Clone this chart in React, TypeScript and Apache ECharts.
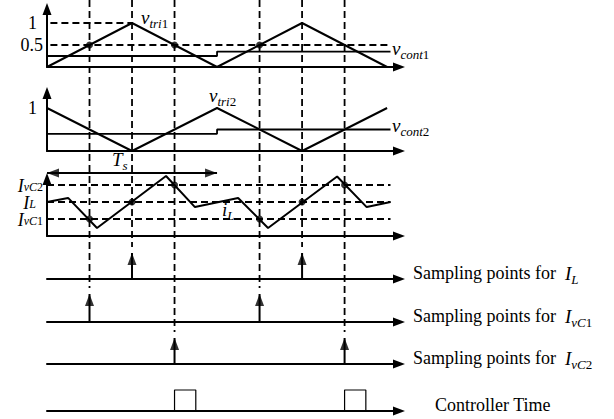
import React, { useEffect, useRef } from 'react';
import * as echarts from 'echarts';

// ---- data (time in units of Ts) ----
const XMAX = 2.07;
const tri1 = [[0, 0], [0.5, 1], [1, 0], [1.5, 1], [2, 0]];
const vcont1 = [[0, 0.25], [1, 0.25], [1, 0.35], [2.02, 0.35]];
const tri1Dots = [[0.25, 0.5], [0.75, 0.5], [1.25, 0.5]];
const tri1Refs = [
  [[0.02, 1], [0.5, 1]],
  [[0.02, 0.5], [2.02, 0.5]],
];
const tri2 = [[0, 1], [0.5, 0], [1, 1], [1.5, 0], [2, 1]];
const vcont2 = [[0, 0.4], [1, 0.4], [1, 0.5], [2.02, 0.5]];
const iL = [
  [0, 2.0], [0.124, 2.24], [0.294, 0.47], [0.7, 3.53], [0.87, 1.7],
  [1.124, 2.24], [1.3, 0.47], [1.706, 3.5], [1.88, 1.7], [2.02, 2.0],
];
const iLDots = [[0.25, 1], [0.5, 2], [0.75, 3], [1.25, 1], [1.5, 2], [1.75, 3]];
const iLevels = [1, 2, 3]; // IvC1, IL, IvC2
const iLevelEnd = 2.02;
const sampleIL = [0.5, 1.5];
const sampleIvC1 = [0.25, 1.25];
const sampleIvC2 = [0.75, 1.75];
const controllerPulses = [[0.75, 0.875], [1.75, 1.875]];
const dashedTimes = [0.25, 0.5, 0.75, 1.25, 1.5, 1.75];
const dashedEnds = [288, 247, 332, 288, 247, 332];
const tsSpan = [0, 1];
const tsRow = 173;
const rightLabels = ['Sampling points for  ', 'Sampling points for  ', 'Sampling points for  ', 'Controller Time'];
const rightSubs = ['L', 'vC1', 'vC2', ''];

const SERIF = 'Liberation Serif';
const BLACK = '#000';

function buildOption() {
  const grids = [
    { left: 47, top: 9, width: 352, height: 58 },
    { left: 47, top: 93, width: 352, height: 58 },
    { left: 47, top: 179, width: 352, height: 57 },
    { left: 47, top: 253, width: 352, height: 26 },
    { left: 47, top: 294, width: 352, height: 28 },
    { left: 47, top: 338, width: 352, height: 26 },
    { left: 47, top: 390, width: 352, height: 21 },
    { left: 47, top: 0, width: 352, height: 419 },
  ];
  const axisLine = {
    show: true,
    symbol: ['none', 'triangle'],
    symbolSize: [9, 12],
    lineStyle: { color: BLACK, width: 2 },
  };
  const xAxis = grids.map((_, i) => ({
    gridIndex: i,
    type: 'value',
    min: 0,
    max: XMAX,
    show: i < 7,
    axisLine,
    axisTick: { show: false },
    axisLabel: { show: false },
    splitLine: { show: false },
  }));
  const numRich = {
    a: { fontFamily: SERIF, fontSize: 18, color: BLACK },
    b: { fontFamily: SERIF, fontSize: 18, color: BLACK, padding: [0, 6, 0, 0] },
  };
  const iRich = {
    I: { fontFamily: SERIF, fontSize: 18, fontStyle: 'italic', color: BLACK, lineHeight: 16, verticalAlign: 'top' },
    s: { fontFamily: SERIF, fontSize: 12, fontStyle: 'italic', color: BLACK, lineHeight: 10, verticalAlign: 'bottom' },
    n: { fontFamily: SERIF, fontSize: 12, color: BLACK, lineHeight: 10, verticalAlign: 'bottom' },
    g: { width: 7 },
  };
  const yAxis: any[] = [
    {
      gridIndex: 0, type: 'value', min: 0, max: 58 / 44, interval: 0.5,
      axisLine, axisTick: { show: false }, splitLine: { show: false },
      axisLabel: {
        margin: 4, rich: numRich,
        formatter: (v: number) => (v === 0.5 ? '{a|0.5}' : v === 1 ? '{b|1}' : ''),
      },
    },
    {
      gridIndex: 1, type: 'value', min: 0, max: 58 / 43, interval: 1,
      axisLine, axisTick: { show: false }, splitLine: { show: false },
      axisLabel: { margin: 4, rich: numRich, formatter: (v: number) => (v === 1 ? '{b|1}' : '') },
    },
    {
      gridIndex: 2, type: 'value', min: 0, max: 57 / 17, interval: 1,
      axisLine, axisTick: { show: false }, splitLine: { show: false },
      axisLabel: {
        margin: 4, rich: iRich,
        formatter: (v: number) =>
          v === 1 ? '{I|I}{s|vC}{n|1}' : v === 2 ? '{I|I}{s|L}{g|}' : v === 3 ? '{I|I}{s|vC}{n|2}' : '',
      },
    },
  ];
  for (let i = 3; i < 7; i++) yAxis.push({ gridIndex: i, type: 'value', min: 0, max: 1, show: false });
  yAxis.push({ gridIndex: 7, type: 'value', min: 0, max: 419, inverse: true, show: false });

  const series: any[] = [];
  const line = (g: number, data: number[][], width = 2, type: any = 'solid', color = BLACK) => ({
    type: 'line', xAxisIndex: g, yAxisIndex: g, data, showSymbol: false, symbol: 'none',
    silent: true, clip: false, lineStyle: { color, width, type }, z: 3,
  });
  const dots = (g: number, data: number[][]) => ({
    type: 'scatter', xAxisIndex: g, yAxisIndex: g, data, symbol: 'circle', symbolSize: 7,
    itemStyle: { color: BLACK }, silent: true, clip: false, z: 5,
  });
  const heads = (g: number, data: number[][], rotate = 0, offset = [0, 6]) => ({
    type: 'scatter', xAxisIndex: g, yAxisIndex: g, data, symbol: 'triangle', symbolSize: [9, 12],
    symbolRotate: rotate, symbolOffset: offset,
    itemStyle: { color: BLACK }, silent: true, clip: false, z: 6,
  });
  const DASH = [7, 4];
  const DW = 1.8;

  // plot 1
  series.push(line(0, tri1, 2));
  series.push(line(0, vcont1, 1.8));
  tri1Refs.forEach((r) => series.push(line(0, r, DW, DASH)));
  series.push(dots(0, tri1Dots));
  // plot 2
  series.push(line(1, tri2, 2));
  series.push(line(1, vcont2, 1.8));
  // plot 3
  iLevels.forEach((lv) => series.push(line(2, [[0, lv], [iLevelEnd, lv]], DW, DASH)));
  series.push(line(2, iL, 2));
  series.push(dots(2, iLDots));
  // sampling
  [sampleIL, sampleIvC1, sampleIvC2].forEach((ts, k) => {
    const g = 3 + k;
    ts.forEach((t) => series.push(line(g, [[t, 0], [t, 1]], 2)));
    series.push(heads(g, ts.map((t) => [t, 1])));
  });
  // controller
  controllerPulses.forEach(([a, b]) => series.push(line(6, [[a, 0], [a, 1], [b, 1], [b, 0]], 1.2)));
  // overlay: dashed verticals and Ts arrow
  dashedTimes.forEach((t, i) => series.push(line(7, [[t, 0], [t, dashedEnds[i]]], DW, DASH)));
  series.push(line(7, [[tsSpan[0], tsRow], [tsSpan[1], tsRow]], 2));
  series.push(heads(7, [[tsSpan[0], tsRow]], 90, [6, 0]));
  series.push(heads(7, [[tsSpan[1], tsRow]], -90, [-6, 0]));

  const vRich = {
    v: { fontFamily: SERIF, fontSize: 19, fontStyle: 'italic', fill: BLACK, lineHeight: 22, verticalAlign: 'top' },
    s: { fontFamily: SERIF, fontSize: 13, fontStyle: 'italic', fill: BLACK, lineHeight: 12, verticalAlign: 'bottom' },
    n: { fontFamily: SERIF, fontSize: 13, fill: BLACK, lineHeight: 12, verticalAlign: 'bottom' },
    t: { fontFamily: SERIF, fontSize: 18, fill: BLACK, lineHeight: 22, verticalAlign: 'top' },
  };
  const txt = (x: number, y: number, text: string) => ({
    type: 'text', x, y, silent: true,
    style: { text, rich: vRich, align: 'left', verticalAlign: 'middle', fill: BLACK },
  });
  const graphic: any[] = [
    txt(141, 19, '{v|v}{s|tri}{n|1}'),
    txt(392, 50, '{v|v}{s|cont}{n|1}'),
    txt(209, 97, '{v|v}{s|tri}{n|2}'),
    txt(392, 127, '{v|v}{s|cont}{n|2}'),
    txt(112, 161, '{v|T}{s|s}'),
    txt(222, 211, '{v|i}{s|L}'),
  ];
  const rows = [275, 318, 360, 407];
  rows.forEach((y, i) => {
    if (rightSubs[i]) {
      const sub = rightSubs[i] === 'L' ? '{s|L}' : `{s|vC}{n|${rightSubs[i].slice(2)}}`;
      graphic.push(txt(413, y, `{t|${rightLabels[i]}}{v|I}${sub}`));
    } else {
      graphic.push(txt(435, y, `{t|${rightLabels[i]}}`));
    }
  });

  return {
    animation: false,
    backgroundColor: '#fff',
    grid: grids,
    xAxis,
    yAxis,
    series,
    graphic,
  };
}

export default function App() {
  const ref = useRef<HTMLDivElement>(null);
  useEffect(() => {
    const chart = echarts.init(ref.current!, null, { renderer: 'svg' });
    chart.setOption(buildOption() as any);
    return () => chart.dispose();
  }, []);
  return (
    <div
      ref={ref}
      style={{ position: 'fixed', left: 0, top: 0, width: 614, height: 419, background: '#fff' }}
    />
  );
}
